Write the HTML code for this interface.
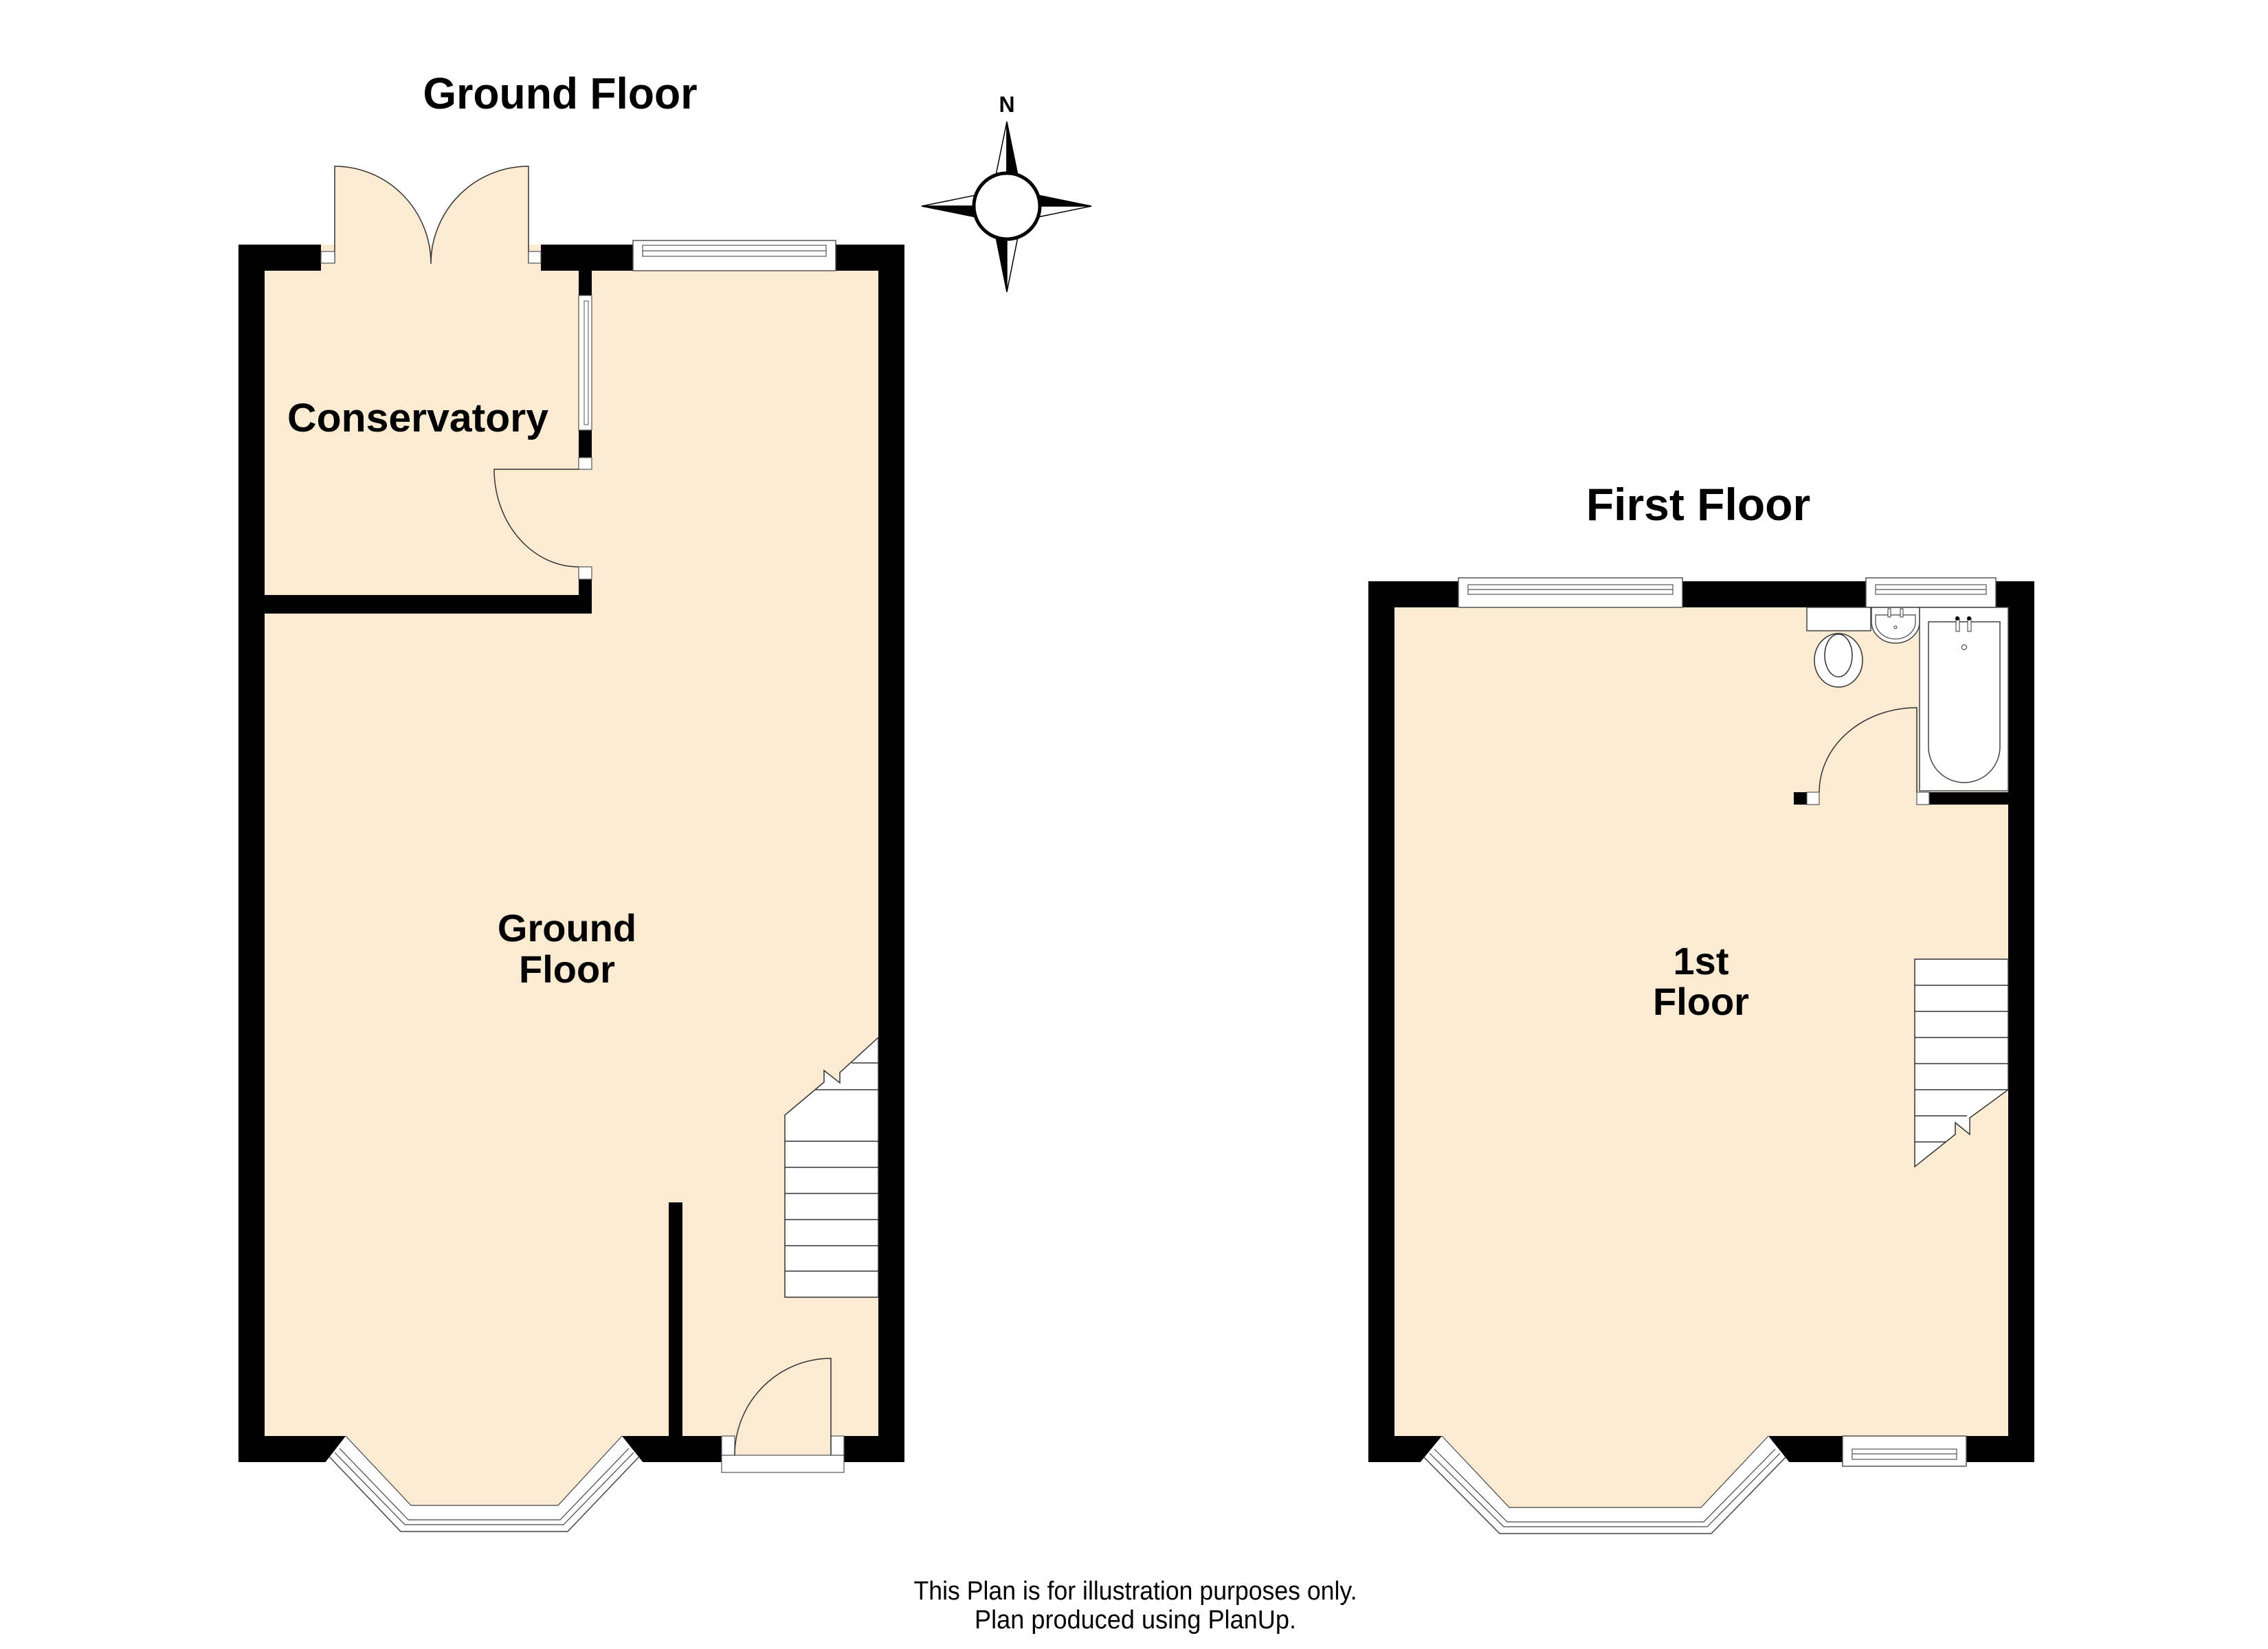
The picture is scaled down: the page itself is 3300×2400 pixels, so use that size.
<!DOCTYPE html>
<html><head><meta charset="utf-8"><style>
html,body{margin:0;padding:0;background:#fff;}
svg{display:block;}
text{font-family:"Liberation Sans",Arial,sans-serif;}
</style></head><body>
<svg width="3300" height="2400" viewBox="0 0 3300 2400" xmlns="http://www.w3.org/2000/svg">
<rect width="3300" height="2400" fill="#fff"/>
<text x="815" y="158" font-size="64" font-weight="bold" text-anchor="middle" textLength="399" lengthAdjust="spacingAndGlyphs">Ground Floor</text>
<text x="2471" y="757" font-size="66" font-weight="bold" text-anchor="middle">First Floor</text>

<text x="1465" y="163" font-size="32" font-weight="bold" text-anchor="middle">N</text>
<g stroke="#000" stroke-width="1.5" stroke-linejoin="miter">
<polygon points="1465,177 1449,255 1465,255" fill="#fff"/>
<polygon points="1465,177 1481,255 1465,255" fill="#000"/>
<polygon points="1465,425 1449,345 1465,345" fill="#000"/>
<polygon points="1465,425 1481,345 1465,345" fill="#fff"/>
<polygon points="1588,300 1510,284 1510,300" fill="#000"/>
<polygon points="1588,300 1510,316 1510,300" fill="#fff"/>
<polygon points="1341,300 1420,284 1420,300" fill="#fff"/>
<polygon points="1341,300 1420,316 1420,300" fill="#000"/>
</g>
<circle cx="1465" cy="300" r="48" fill="#fff" stroke="#000" stroke-width="5"/>

<rect x="347" y="356" width="969" height="1772" fill="#000"/>
<rect x="385" y="394" width="893" height="1696" fill="#FCEBD3"/>
<rect x="467" y="356" width="320" height="40" fill="#FCEBD3"/>
<path d="M487,242 A140,142 0 0 1 627,384 A142,142 0 0 1 769,242 L769,384 L487,384 Z" fill="#FCEBD3"/>
<path d="M487,383 L487,242 A140,142 0 0 1 627,384 M769,383 L769,242 A142,142 0 0 0 627,384" fill="none" stroke="#333" stroke-width="1.5"/>
<rect x="467" y="366" width="20" height="17" fill="#fff" stroke="#555" stroke-width="1.2"/>
<rect x="769" y="366" width="18" height="17" fill="#fff" stroke="#555" stroke-width="1.2"/>
<rect x="921" y="350" width="295" height="44" fill="#fff" stroke="#555" stroke-width="1.5"/>
<rect x="935" y="357" width="267" height="16" fill="#fff" stroke="#555" stroke-width="1.2"/>
<line x1="935" y1="365" x2="1202" y2="365" stroke="#555" stroke-width="1.2"/>
<rect x="842" y="394" width="19" height="499" fill="#000"/>
<rect x="385" y="866" width="476" height="27" fill="#000"/>
<rect x="842" y="430" width="19" height="196" fill="#fff" stroke="#555" stroke-width="1.2"/>
<rect x="850" y="438" width="6" height="180" fill="#fff" stroke="#555" stroke-width="1"/>
<rect x="842" y="683" width="19" height="142" fill="#FCEBD3"/>
<rect x="842" y="666" width="19" height="17" fill="#fff" stroke="#555" stroke-width="1.2"/>
<rect x="842" y="825" width="19" height="18" fill="#fff" stroke="#555" stroke-width="1.2"/>
<path d="M842,683 L719,683 A123,142 0 0 0 842,825" fill="none" stroke="#333" stroke-width="1.5"/>
<text x="608" y="628" font-size="58" font-weight="bold" text-anchor="middle" textLength="380" lengthAdjust="spacingAndGlyphs">Conservatory</text>
<rect x="973" y="1750" width="20" height="340" fill="#000"/>
<polygon points="1142,1888 1278,1888 1278,1510 1222,1561 1222,1576 1199,1558 1199,1575 1142,1623" fill="#fff" stroke="#333" stroke-width="1.5"/>
<g stroke="#333" stroke-width="1.5">
<line x1="1239" y1="1547" x2="1278" y2="1547"/>
<line x1="1187" y1="1586" x2="1278" y2="1586"/>
<line x1="1142" y1="1661" x2="1278" y2="1661"/>
<line x1="1142" y1="1699" x2="1278" y2="1699"/>
<line x1="1142" y1="1737" x2="1278" y2="1737"/>
<line x1="1142" y1="1775" x2="1278" y2="1775"/>
<line x1="1142" y1="1813" x2="1278" y2="1813"/>
<line x1="1142" y1="1850" x2="1278" y2="1850"/>
</g>
<polygon points="503,2090 472,2130 583,2229 826,2229 937,2130 905,2090" fill="#fff"/>
<polyline points="479,2120 583,2229 826,2229 930,2120" fill="none" stroke="#444" stroke-width="1.5"/>
<polyline points="487,2114 589,2219 820,2219 922,2114" fill="none" stroke="#444" stroke-width="1.2"/>
<polyline points="494,2108 594,2212 815,2212 915,2108" fill="none" stroke="#444" stroke-width="1.2"/>
<polygon points="503,2088 598,2191 812,2191 905,2088" fill="#FCEBD3"/>
<polyline points="503,2090 598,2191 812,2191 905,2090" fill="none" stroke="#444" stroke-width="1.2"/>
<rect x="1050" y="2090" width="178" height="38" fill="#FCEBD3"/>
<rect x="1050" y="2118" width="178" height="25" fill="#fff" stroke="#555" stroke-width="1.2"/>
<rect x="1050" y="2090" width="19" height="28" fill="#fff" stroke="#555" stroke-width="1.2"/>
<rect x="1209" y="2090" width="19" height="28" fill="#fff" stroke="#555" stroke-width="1.2"/>
<path d="M1209,2118 L1209,1977 A140,141 0 0 0 1069,2118" fill="none" stroke="#333" stroke-width="1.5"/>
<text x="825" y="1370" font-size="56" font-weight="bold" text-anchor="middle">Ground</text>
<text x="825" y="1430" font-size="56" font-weight="bold" text-anchor="middle">Floor</text>

<rect x="1991" y="846" width="969" height="1282" fill="#000"/>
<rect x="2029" y="884" width="893" height="1206" fill="#FCEBD3"/>
<rect x="2122" y="841" width="326" height="43" fill="#fff" stroke="#555" stroke-width="1.5"/>
<rect x="2136" y="851" width="298" height="14" fill="#fff" stroke="#555" stroke-width="1.2"/>
<line x1="2136" y1="858" x2="2434" y2="858" stroke="#555" stroke-width="1.2"/>
<rect x="2715" y="841" width="189" height="43" fill="#fff" stroke="#555" stroke-width="1.5"/>
<rect x="2729" y="851" width="161" height="14" fill="#fff" stroke="#555" stroke-width="1.2"/>
<line x1="2729" y1="858" x2="2890" y2="858" stroke="#555" stroke-width="1.2"/>
<rect x="2629" y="884" width="93" height="34" fill="#fff" stroke="#444" stroke-width="1.5"/>
<ellipse cx="2675" cy="961" rx="35" ry="39" fill="#fff" stroke="#333" stroke-width="1.5"/>
<ellipse cx="2675" cy="954" rx="20" ry="31" fill="#fff" stroke="#333" stroke-width="1.5"/>
<path d="M2723,884 L2723,905 A35,31 0 0 0 2793,905 L2793,884 Z" fill="#fff" stroke="#444" stroke-width="1.5"/>
<path d="M2729,895 L2787,895 L2787,905 A29,25 0 0 1 2729,905 Z" fill="#fff" stroke="#444" stroke-width="1.2"/>
<rect x="2747" y="886" width="4" height="12" fill="#fff" stroke="#333" stroke-width="1"/>
<rect x="2765" y="886" width="4" height="12" fill="#fff" stroke="#333" stroke-width="1"/>
<circle cx="2758" cy="913" r="2" fill="none" stroke="#333" stroke-width="1"/>
<rect x="2793" y="884" width="129" height="267" fill="#fff" stroke="#444" stroke-width="1.5"/>
<path d="M2806,905 L2910,905 L2910,1087 A52,52 0 0 1 2806,1087 Z" fill="#fff" stroke="#444" stroke-width="1.5"/>
<rect x="2846" y="900" width="5" height="19" fill="#fff" stroke="#333" stroke-width="1"/>
<rect x="2863" y="900" width="5" height="19" fill="#fff" stroke="#333" stroke-width="1"/>
<circle cx="2848" cy="900" r="3" fill="#000"/><circle cx="2865" cy="900" r="3" fill="#000"/>
<circle cx="2858" cy="942" r="3.5" fill="none" stroke="#333" stroke-width="1"/>
<rect x="2807" y="1153" width="115" height="18" fill="#000"/>
<rect x="2789" y="1153" width="18" height="18" fill="#fff" stroke="#555" stroke-width="1.2"/>
<rect x="2610" y="1153" width="19" height="18" fill="#000"/>
<rect x="2629" y="1153" width="18" height="18" fill="#fff" stroke="#555" stroke-width="1.2"/>
<path d="M2789,1153 L2789,1030 A142,123 0 0 0 2647,1153" fill="none" stroke="#333" stroke-width="1.5"/>
<polygon points="2786,1396 2922,1396 2922,1586 2866,1627 2866,1651 2845,1634 2845,1651 2786,1698" fill="#fff" stroke="#333" stroke-width="1.5"/>
<g stroke="#333" stroke-width="1.5">
<line x1="2786" y1="1434" x2="2922" y2="1434"/>
<line x1="2786" y1="1472" x2="2922" y2="1472"/>
<line x1="2786" y1="1510" x2="2922" y2="1510"/>
<line x1="2786" y1="1548" x2="2922" y2="1548"/>
<line x1="2786" y1="1586" x2="2922" y2="1586"/>
<line x1="2786" y1="1624" x2="2862" y2="1624"/>
<line x1="2786" y1="1662" x2="2832" y2="1662"/>
</g>
<text x="2475" y="1418" font-size="56" font-weight="bold" text-anchor="middle">1st</text>
<text x="2475" y="1477" font-size="56" font-weight="bold" text-anchor="middle">Floor</text>
<polygon points="2098,2090 2065,2130 2182,2232 2490,2232 2605,2130 2573,2090" fill="#fff"/>
<polyline points="2072,2121 2182,2232 2490,2232 2598,2121" fill="none" stroke="#444" stroke-width="1.5"/>
<polyline points="2080,2115 2188,2222 2484,2222 2590,2115" fill="none" stroke="#444" stroke-width="1.2"/>
<polyline points="2087,2109 2193,2215 2479,2215 2583,2109" fill="none" stroke="#444" stroke-width="1.2"/>
<polygon points="2098,2088 2196,2194 2475,2194 2573,2088" fill="#FCEBD3"/>
<polyline points="2098,2090 2196,2194 2475,2194 2573,2090" fill="none" stroke="#444" stroke-width="1.2"/>
<rect x="2681" y="2090" width="180" height="44" fill="#fff" stroke="#555" stroke-width="1.5"/>
<rect x="2695" y="2109" width="152" height="15" fill="#fff" stroke="#555" stroke-width="1.2"/>
<line x1="2695" y1="2116" x2="2847" y2="2116" stroke="#555" stroke-width="1.2"/>

<text x="1652" y="2328" font-size="38" text-anchor="middle" textLength="645" lengthAdjust="spacingAndGlyphs">This Plan is for illustration purposes only.</text>
<text x="1652" y="2370" font-size="38" text-anchor="middle" textLength="468" lengthAdjust="spacingAndGlyphs">Plan produced using PlanUp.</text>
</svg>
</body></html>
